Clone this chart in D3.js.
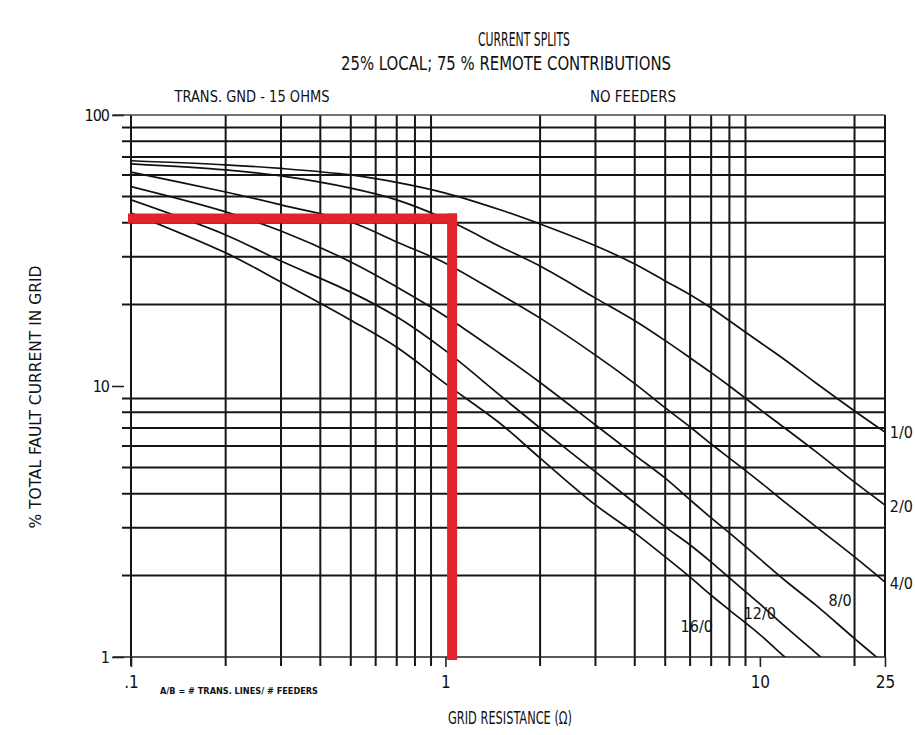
<!DOCTYPE html>
<html>
<head>
<meta charset="utf-8">
<script src="https://cdn.jsdelivr.net/npm/d3@7/dist/d3.min.js"></script>
<style>
  html, body { margin: 0; padding: 0; background: #fff; }
  svg text { font-family: "Liberation Sans Narrow", "DejaVu Sans Condensed", "Roboto Condensed", "Liberation Sans", sans-serif; font-stretch: condensed; fill: #111; }
</style>
</head>
<body>
<svg id="chart" width="915" height="735"></svg>
<script>
// ---- data ----
const resistance = [0.1, 0.2, 0.3, 0.5, 0.7, 1, 1.5, 2, 3, 4, 5, 6, 7, 8, 10, 12, 15, 20, 25];
const split1_0  = [67.8, 65.5, 63.5, 60.1, 56.4, 51.5, 44.6, 39.6, 32.9, 28.2, 24.4, 21.7, 19.4, 17.4, 14.5, 12.5, 10.3, 8.09, 6.76];
const split2_0  = [66.0, 62.7, 59.6, 53.7, 48.6, 41.3, 32.6, 27.7, 21.1, 17.4, 14.7, 12.7, 11.2, 10.0, 8.2, 7.0, 5.75, 4.42, 3.64];
const split4_0  = [61.6, 52.0, 46.6, 40.3, 34.0, 28.4, 21.7, 17.8, 13.0, 10.2, 8.3, 7.06, 6.11, 5.42, 4.43, 3.73, 3.04, 2.34, 1.89];
const split8_0  = [54.4, 43.9, 37.3, 28.7, 23.2, 18.1, 13.1, 10.3, 7.18, 5.56, 4.57, 3.80, 3.26, 2.87, 2.30, 1.92, 1.56, 1.17, 0.94];
const split12_0 = [48.6, 36.1, 28.9, 22.2, 18.0, 13.5, 9.19, 7.0, 4.82, 3.70, 3.02, 2.59, 2.24, 1.96, 1.57, 1.30, 1.04, 0.78, null];
const split16_0 = [43.5, 31.0, 24.2, 17.5, 13.9, 10.2, 7.24, 5.42, 3.64, 2.87, 2.34, 1.97, 1.69, 1.49, 1.21, 1.0, 0.82, null, null];
const seriesNames = ["1/0", "2/0", "4/0", "8/0", "12/0", "16/0"];
const seriesValues = [split1_0, split2_0, split4_0, split8_0, split12_0, split16_0];
// label anchors in data units (resistance, %)
const labelR   = [25.9, 25.9, 25.9, 18.0, 10.0, 6.3];
const labelPct = [6.7, 3.55, 1.85, 1.6, 1.43, 1.29];

const xTickValues = [0.1, 1, 10, 25];
const xTickLabels = [".1", "1", "10", "25"];
const yTickValues = [1, 10, 100];
const yTickLabels = ["1", "10", "100"];
const xGridValues = [0.1, 0.2, 0.3, 0.4, 0.5, 0.6, 0.7, 0.8, 0.9, 2, 3, 4, 5, 6, 7, 8, 9, 20, 25];
const yGridValues = [2, 3, 4, 5, 6, 7, 8, 9, 20, 30, 40, 50, 60, 70, 80, 90];
const markerR = 1.05, markerPct = 41.5;

// ---- scales ----
const svg = d3.select("#chart");
const x = d3.scaleLog().domain([0.1, 25]).range([131, 885]);
const y = d3.scaleLog().domain([1, 100]).range([657, 115]);

svg.append("rect").attr("width", 915).attr("height", 735).attr("fill", "#fff");

svg.append("defs").append("clipPath").attr("id", "plotclip")
  .append("rect").attr("x", x(0.1)).attr("y", y(100)).attr("width", x(25) - x(0.1)).attr("height", y(1) - y(100));

// horizontal grid
svg.append("g").selectAll("line").data(yGridValues).join("line")
  .attr("x1", 122).attr("x2", x(25))
  .attr("y1", d => y(d)).attr("y2", d => y(d))
  .attr("stroke", "#161616").attr("stroke-width", 2);

// vertical grid
svg.append("g").selectAll("line").data(xGridValues).join("line")
  .attr("x1", d => x(d)).attr("x2", d => x(d))
  .attr("y1", y(100)).attr("y2", d => d === 25 ? y(1) : y(1) + 9)
  .attr("stroke", "#161616").attr("stroke-width", 2);

// frame: top and bottom
svg.append("line").attr("x1", 113).attr("x2", x(25)).attr("y1", y(100)).attr("y2", y(100))
  .attr("stroke", "#444").attr("stroke-width", 1.6);
svg.append("line").attr("x1", 113).attr("x2", x(25)).attr("y1", y(1)).attr("y2", y(1))
  .attr("stroke", "#222").attr("stroke-width", 1.6);

// axes
const xAxis = d3.axisBottom(x).tickValues(xTickValues)
  .tickFormat((d, i) => xTickLabels[i]).tickSize(10).tickPadding(6);
const gx = svg.append("g").attr("transform", `translate(0,${y(1)})`).call(xAxis);
gx.select(".domain").remove();
gx.selectAll(".tick line").attr("stroke", "#222").attr("stroke-width", 1.6);
gx.selectAll(".tick text").attr("font-size", 17).attr("dy", "0.9em");

const yAxis = d3.axisLeft(y).tickValues(yTickValues)
  .tickFormat((d, i) => yTickLabels[i]).tickSize(0).tickPadding(0);
const gy = svg.append("g").attr("transform", "translate(112,0)").call(yAxis);
gy.select(".domain").remove();
gy.selectAll(".tick text").attr("font-size", 16).attr("x", -3).attr("letter-spacing", -1);
gy.selectAll(".tick").append("line").attr("x1", 0).attr("x2", 12).attr("stroke", "#222").attr("stroke-width", 1.6);

// curves
const line = d3.line()
  .defined(d => d[1] != null)
  .x(d => x(d[0])).y(d => y(d[1]))
  .curve(d3.curveCatmullRom.alpha(0.5));
svg.append("g").attr("clip-path", "url(#plotclip)")
  .selectAll("path").data(seriesValues).join("path")
  .attr("d", vals => line(resistance.map((r, i) => [r, vals[i]])))
  .attr("fill", "none").attr("stroke", "#111").attr("stroke-width", 1.7);

// curve labels
svg.append("g").selectAll("text").data(seriesNames).join("text")
  .attr("x", (d, i) => x(labelR[i])).attr("y", (d, i) => y(labelPct[i]))
  .attr("text-anchor", (d, i) => i < 3 ? "start" : "middle")
  .attr("dominant-baseline", "middle")
  .attr("font-size", 16)
  .text(d => d);

// red marker
const red = "#e1232b";
svg.append("line")
  .attr("x1", x(0.1) - 3).attr("x2", x(markerR) + 5)
  .attr("y1", y(markerPct)).attr("y2", y(markerPct))
  .attr("stroke", red).attr("stroke-width", 10);
svg.append("line")
  .attr("x1", x(markerR)).attr("x2", x(markerR))
  .attr("y1", y(markerPct) - 5).attr("y2", y(1) + 3)
  .attr("stroke", red).attr("stroke-width", 10);

// titles
function txt(s, cx, cy, size, len, anchor) {
  const t = svg.append("text").attr("x", cx).attr("y", cy)
    .attr("font-size", size).attr("text-anchor", anchor || "middle")
    .attr("dominant-baseline", "middle").text(s);
  if (len) t.attr("textLength", len).attr("lengthAdjust", "spacingAndGlyphs");
  return t;
}
txt("CURRENT SPLITS", 524, 40, 19, 92);
txt("25% LOCAL; 75 % REMOTE CONTRIBUTIONS", 506, 64, 19, 330);
txt("TRANS. GND - 15 OHMS", 252, 97, 15, 155);
txt("NO FEEDERS", 633, 97, 15, 86);
txt("A/B = # TRANS. LINES/ # FEEDERS", 239, 691, 9, 158).attr("font-weight", "bold");
txt("GRID RESISTANCE (\u03A9)", 510, 719, 17, 124);
txt("% TOTAL FAULT CURRENT IN GRID", 0, 0, 16, 263)
  .attr("transform", "translate(36,397) rotate(-90)");
</script>
</body>
</html>
